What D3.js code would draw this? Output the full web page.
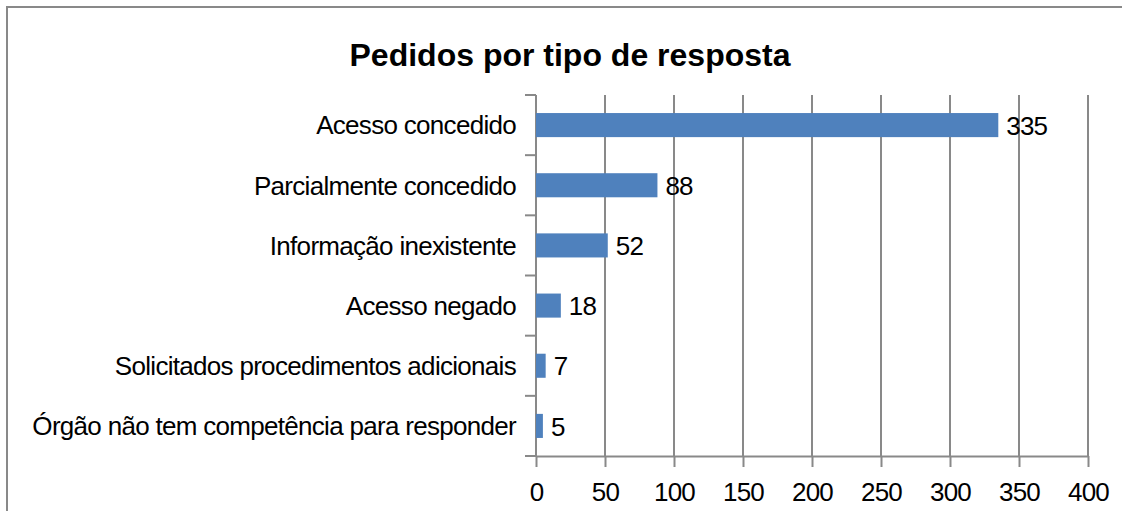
<!DOCTYPE html>
<html>
<head>
<meta charset="utf-8">
<script src="https://cdn.jsdelivr.net/npm/d3@7"></script>
<style>
    body { margin: 0; background: #fff; }
    svg text { font-family: "Liberation Sans", Arial, sans-serif; fill: #000; }
    .title { font-size: 32px; font-weight: bold; }
    .cat { font-size: 26px; letter-spacing: -0.7px; }
    .tick-label { font-size: 26px; letter-spacing: -0.8px; }
    .value { font-size: 26px; letter-spacing: -0.8px; }
</style>
</head>
<body>
<svg></svg>
<script>
// categories, top to bottom
var categories = [
    "Acesso concedido",
    "Parcialmente concedido",
    "Informação inexistente",
    "Acesso negado",
    "Solicitados procedimentos adicionais",
    "Órgão não tem competência para responder"
]
var values = [335, 88, 52, 18, 7, 5]
var xTicks = [0, 50, 100, 150, 200, 250, 300, 350, 400]
var chartTitle = "Pedidos por tipo de resposta"

var screen = { width: 1122, height: 511 }
var margins = { left: 536, right: 34, top: 95, bottom: 55 }
var graph = {
    width: screen.width - margins.left - margins.right,
    height: screen.height - margins.top - margins.bottom
}

var gridColor = "#898989"

var svg = d3.select("svg")
    .attr("width", screen.width)
    .attr("height", screen.height)

// chart frame (runs past the right and bottom edges)
svg.append("path")
    .attr("d", "M7," + (screen.height + 5) + "V7H" + (screen.width + 5))
    .attr("fill", "none")
    .attr("stroke", gridColor)
    .attr("stroke-width", 2)

svg.append("text")
    .classed("title", true)
    .attr("text-anchor", "middle")
    .attr("x", 570)
    .attr("y", 66)
    .text(chartTitle)

var xScale = d3.scaleLinear()
    .domain([0, 400])
    .range([0, graph.width])

var yScale = d3.scaleBand()
    .domain(categories)
    .range([0, graph.height])
    .paddingInner(0.6)
    .paddingOuter(0.3)

var target = svg.append("g")
    .attr("transform", "translate(" + margins.left + "," + margins.top + ")")

// vertical gridlines
target.append("g")
    .selectAll("line")
    .data(xTicks.slice(1))
    .enter()
    .append("line")
    .attr("x1", xScale)
    .attr("x2", xScale)
    .attr("y1", 0)
    .attr("y2", graph.height)
    .attr("stroke", gridColor)
    .attr("stroke-width", 2)

// x axis
var xAxis = d3.axisBottom(xScale)
    .tickValues(xTicks)
    .tickSize(11)
    .tickSizeOuter(0)
    .tickPadding(16)

var xg = target.append("g")
    .attr("transform", "translate(0," + graph.height + ")")
    .call(xAxis)
xg.select(".domain").attr("stroke", gridColor).attr("stroke-width", 2)
xg.selectAll(".tick line").attr("stroke", gridColor).attr("stroke-width", 2)
xg.selectAll(".tick text")
    .classed("tick-label", true)
    .attr("font-family", null)
    .attr("font-size", null)
    .attr("fill", "#000")

// y axis: ticks at band boundaries
var boundaries = d3.range(categories.length + 1).map(function (i) {
    return i * graph.height / categories.length
})
var yg = target.append("g")
yg.append("line")
    .attr("x1", 0).attr("x2", 0)
    .attr("y1", 0).attr("y2", graph.height)
    .attr("stroke", gridColor)
    .attr("stroke-width", 2)
yg.selectAll(".btick")
    .data(boundaries)
    .enter()
    .append("line")
    .attr("x1", -11).attr("x2", 0)
    .attr("y1", function (d) { return d })
    .attr("y2", function (d) { return d })
    .attr("stroke", gridColor)
    .attr("stroke-width", 2)

yg.selectAll(".cat")
    .data(categories)
    .enter()
    .append("text")
    .classed("cat", true)
    .attr("text-anchor", "end")
    .attr("x", -20)
    .attr("y", function (d) { return yScale(d) + yScale.bandwidth() / 2 })
    .attr("dy", "0.36em")
    .text(function (d) { return d })

// bars
var rows = categories.map(function (c, i) { return { cat: c, value: values[i] } })

target.append("g")
    .selectAll("rect")
    .data(rows)
    .enter()
    .append("rect")
    .attr("x", 0)
    .attr("y", function (d) { return yScale(d.cat) })
    .attr("width", function (d) { return xScale(d.value) })
    .attr("height", yScale.bandwidth())
    .attr("fill", "#4f81bd")

target.append("g")
    .selectAll("text")
    .data(rows)
    .enter()
    .append("text")
    .classed("value", true)
    .attr("x", function (d) { return xScale(d.value) + 8 })
    .attr("y", function (d) { return yScale(d.cat) + yScale.bandwidth() / 2 })
    .attr("dy", "0.37em")
    .text(function (d) { return d.value })
</script>
</body>
</html>
